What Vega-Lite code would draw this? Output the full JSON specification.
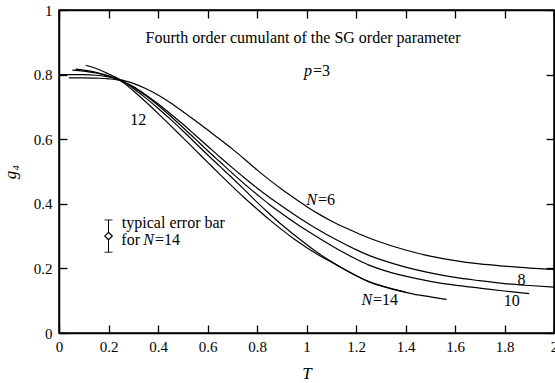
{
  "$schema": "https://vega.github.io/schema/vega-lite/v6.json",
  "width": 495,
  "height": 323,
  "autosize": {"type": "none"},
  "padding": {"left": 59, "top": 10, "right": 1, "bottom": 50},
  "background": "white",
  "config": {
    "view": {"stroke": "black", "strokeWidth": 1.5},
    "font": "Liberation Serif",
    "axis": {
      "domainColor": "black", "domainWidth": 1.5, "tickColor": "black", "tickWidth": 1.3,
      "tickSize": -8, "labelColor": "black", "labelFont": "Liberation Serif", "labelFontSize": 15,
      "titleFont": "Liberation Serif", "titleColor": "black", "titleFontSize": 17, "titleFontWeight": "normal",
      "grid": false
    },
    "text": {"font": "Liberation Serif", "fontSize": 16, "color": "black"}
  },
  "datasets": {
    "curves": [
      {"N": 6, "T": 0.0, "g": 0.8}, {"N": 6, "T": 0.05, "g": 0.8}, {"N": 6, "T": 0.1, "g": 0.8}, {"N": 6, "T": 0.15, "g": 0.798}, {"N": 6, "T": 0.2, "g": 0.793}, {"N": 6, "T": 0.25, "g": 0.784}, {"N": 6, "T": 0.3, "g": 0.773}, {"N": 6, "T": 0.35, "g": 0.757}, {"N": 6, "T": 0.4, "g": 0.737}, {"N": 6, "T": 0.45, "g": 0.713}, {"N": 6, "T": 0.5, "g": 0.686}, {"N": 6, "T": 0.55, "g": 0.658}, {"N": 6, "T": 0.6, "g": 0.629}, {"N": 6, "T": 0.65, "g": 0.6}, {"N": 6, "T": 0.7, "g": 0.57}, {"N": 6, "T": 0.75, "g": 0.538}, {"N": 6, "T": 0.8, "g": 0.505}, {"N": 6, "T": 0.85, "g": 0.474}, {"N": 6, "T": 0.9, "g": 0.445}, {"N": 6, "T": 0.95, "g": 0.418}, {"N": 6, "T": 1.0, "g": 0.392}, {"N": 6, "T": 1.05, "g": 0.368}, {"N": 6, "T": 1.1, "g": 0.347}, {"N": 6, "T": 1.15, "g": 0.328}, {"N": 6, "T": 1.2, "g": 0.311}, {"N": 6, "T": 1.25, "g": 0.295}, {"N": 6, "T": 1.3, "g": 0.281}, {"N": 6, "T": 1.4, "g": 0.257}, {"N": 6, "T": 1.5, "g": 0.238}, {"N": 6, "T": 1.6, "g": 0.224}, {"N": 6, "T": 1.7, "g": 0.214}, {"N": 6, "T": 1.8, "g": 0.207}, {"N": 6, "T": 1.9, "g": 0.201}, {"N": 6, "T": 2.0, "g": 0.197},
      {"N": 8, "T": 0.04, "g": 0.79}, {"N": 8, "T": 0.1, "g": 0.79}, {"N": 8, "T": 0.15, "g": 0.789}, {"N": 8, "T": 0.2, "g": 0.787}, {"N": 8, "T": 0.25, "g": 0.781}, {"N": 8, "T": 0.3, "g": 0.763}, {"N": 8, "T": 0.35, "g": 0.738}, {"N": 8, "T": 0.4, "g": 0.71}, {"N": 8, "T": 0.45, "g": 0.679}, {"N": 8, "T": 0.5, "g": 0.647}, {"N": 8, "T": 0.55, "g": 0.613}, {"N": 8, "T": 0.6, "g": 0.579}, {"N": 8, "T": 0.65, "g": 0.545}, {"N": 8, "T": 0.7, "g": 0.512}, {"N": 8, "T": 0.75, "g": 0.48}, {"N": 8, "T": 0.8, "g": 0.449}, {"N": 8, "T": 0.85, "g": 0.42}, {"N": 8, "T": 0.9, "g": 0.393}, {"N": 8, "T": 0.95, "g": 0.367}, {"N": 8, "T": 1.0, "g": 0.342}, {"N": 8, "T": 1.05, "g": 0.319}, {"N": 8, "T": 1.1, "g": 0.297}, {"N": 8, "T": 1.15, "g": 0.277}, {"N": 8, "T": 1.2, "g": 0.258}, {"N": 8, "T": 1.25, "g": 0.241}, {"N": 8, "T": 1.3, "g": 0.227}, {"N": 8, "T": 1.4, "g": 0.204}, {"N": 8, "T": 1.5, "g": 0.186}, {"N": 8, "T": 1.6, "g": 0.172}, {"N": 8, "T": 1.7, "g": 0.162}, {"N": 8, "T": 1.8, "g": 0.153}, {"N": 8, "T": 1.9, "g": 0.147}, {"N": 8, "T": 2.0, "g": 0.142},
      {"N": 10, "T": 0.054, "g": 0.814}, {"N": 10, "T": 0.1, "g": 0.811}, {"N": 10, "T": 0.15, "g": 0.805}, {"N": 10, "T": 0.2, "g": 0.795}, {"N": 10, "T": 0.25, "g": 0.781}, {"N": 10, "T": 0.3, "g": 0.761}, {"N": 10, "T": 0.35, "g": 0.735}, {"N": 10, "T": 0.4, "g": 0.705}, {"N": 10, "T": 0.45, "g": 0.672}, {"N": 10, "T": 0.5, "g": 0.637}, {"N": 10, "T": 0.55, "g": 0.601}, {"N": 10, "T": 0.6, "g": 0.565}, {"N": 10, "T": 0.65, "g": 0.53}, {"N": 10, "T": 0.7, "g": 0.495}, {"N": 10, "T": 0.75, "g": 0.461}, {"N": 10, "T": 0.8, "g": 0.429}, {"N": 10, "T": 0.85, "g": 0.398}, {"N": 10, "T": 0.9, "g": 0.37}, {"N": 10, "T": 0.95, "g": 0.343}, {"N": 10, "T": 1.0, "g": 0.318}, {"N": 10, "T": 1.05, "g": 0.294}, {"N": 10, "T": 1.1, "g": 0.271}, {"N": 10, "T": 1.15, "g": 0.249}, {"N": 10, "T": 1.2, "g": 0.229}, {"N": 10, "T": 1.25, "g": 0.211}, {"N": 10, "T": 1.3, "g": 0.197}, {"N": 10, "T": 1.4, "g": 0.176}, {"N": 10, "T": 1.5, "g": 0.16}, {"N": 10, "T": 1.6, "g": 0.148}, {"N": 10, "T": 1.7, "g": 0.139}, {"N": 10, "T": 1.8, "g": 0.13}, {"N": 10, "T": 1.9, "g": 0.122},
      {"N": 12, "T": 0.067, "g": 0.817}, {"N": 12, "T": 0.1, "g": 0.814}, {"N": 12, "T": 0.15, "g": 0.807}, {"N": 12, "T": 0.2, "g": 0.796}, {"N": 12, "T": 0.25, "g": 0.78}, {"N": 12, "T": 0.3, "g": 0.75}, {"N": 12, "T": 0.35, "g": 0.716}, {"N": 12, "T": 0.4, "g": 0.68}, {"N": 12, "T": 0.45, "g": 0.643}, {"N": 12, "T": 0.5, "g": 0.605}, {"N": 12, "T": 0.55, "g": 0.567}, {"N": 12, "T": 0.6, "g": 0.529}, {"N": 12, "T": 0.65, "g": 0.491}, {"N": 12, "T": 0.7, "g": 0.454}, {"N": 12, "T": 0.75, "g": 0.418}, {"N": 12, "T": 0.8, "g": 0.384}, {"N": 12, "T": 0.85, "g": 0.351}, {"N": 12, "T": 0.9, "g": 0.32}, {"N": 12, "T": 0.95, "g": 0.291}, {"N": 12, "T": 1.0, "g": 0.265}, {"N": 12, "T": 1.05, "g": 0.241}, {"N": 12, "T": 1.1, "g": 0.22}, {"N": 12, "T": 1.15, "g": 0.199}, {"N": 12, "T": 1.2, "g": 0.178}, {"N": 12, "T": 1.25, "g": 0.16}, {"N": 12, "T": 1.3, "g": 0.147}, {"N": 12, "T": 1.35, "g": 0.136}, {"N": 12, "T": 1.4, "g": 0.127},
      {"N": 14, "T": 0.108, "g": 0.829}, {"N": 14, "T": 0.15, "g": 0.819}, {"N": 14, "T": 0.2, "g": 0.802}, {"N": 14, "T": 0.25, "g": 0.783}, {"N": 14, "T": 0.3, "g": 0.757}, {"N": 14, "T": 0.35, "g": 0.728}, {"N": 14, "T": 0.4, "g": 0.696}, {"N": 14, "T": 0.45, "g": 0.662}, {"N": 14, "T": 0.5, "g": 0.626}, {"N": 14, "T": 0.55, "g": 0.589}, {"N": 14, "T": 0.6, "g": 0.552}, {"N": 14, "T": 0.65, "g": 0.516}, {"N": 14, "T": 0.7, "g": 0.48}, {"N": 14, "T": 0.75, "g": 0.443}, {"N": 14, "T": 0.8, "g": 0.405}, {"N": 14, "T": 0.85, "g": 0.369}, {"N": 14, "T": 0.9, "g": 0.335}, {"N": 14, "T": 0.95, "g": 0.304}, {"N": 14, "T": 1.0, "g": 0.274}, {"N": 14, "T": 1.05, "g": 0.246}, {"N": 14, "T": 1.1, "g": 0.221}, {"N": 14, "T": 1.15, "g": 0.198}, {"N": 14, "T": 1.2, "g": 0.177}, {"N": 14, "T": 1.25, "g": 0.159}, {"N": 14, "T": 1.3, "g": 0.146}, {"N": 14, "T": 1.35, "g": 0.135}, {"N": 14, "T": 1.4, "g": 0.126}, {"N": 14, "T": 1.45, "g": 0.118}, {"N": 14, "T": 1.5, "g": 0.112}, {"N": 14, "T": 1.566, "g": 0.104}
    ],
    "errorbar": [{"T": 0.2, "g": 0.3, "lo": 0.25, "hi": 0.35}],
    "centerText": [
      {"text": "Fourth order cumulant of the SG order parameter", "T": 0.986, "g": 0.913},
      {"text": "8", "T": 1.869, "g": 0.165},
      {"text": "10", "T": 1.829, "g": 0.098},
      {"text": "12", "T": 0.32, "g": 0.659}
    ],
    "leftText": [
      {"text": "typical error bar", "T": 0.254, "g": 0.342},
      {"text": "for", "T": 0.252, "g": 0.287},
      {"text": "=14", "T": 0.388, "g": 0.287},
      {"text": "=3", "T": 1.026, "g": 0.811},
      {"text": "=6", "T": 1.046, "g": 0.411},
      {"text": "=14", "T": 1.269, "g": 0.101}
    ],
    "italicText": [
      {"text": "N", "T": 0.388, "g": 0.287},
      {"text": "p", "T": 1.026, "g": 0.811},
      {"text": "N", "T": 1.046, "g": 0.411},
      {"text": "N", "T": 1.269, "g": 0.101}
    ]
  },
  "layer": [
    {
      "data": {"name": "curves"},
      "mark": {"type": "line", "color": "black", "strokeWidth": 1.2, "interpolate": "monotone"},
      "encoding": {
        "x": {"field": "T", "type": "quantitative", "scale": {"domain": [0, 2], "nice": false},
          "axis": {"values": [0, 0.2, 0.4, 0.6, 0.8, 1, 1.2, 1.4, 1.6, 1.8, 2], "format": "~g", "title": "T", "titleFontStyle": "italic", "labelPadding": 14, "titlePadding": 11, "labelFlush": false}},
        "y": {"field": "g", "type": "quantitative", "scale": {"domain": [0, 1], "nice": false},
          "axis": {"values": [0, 0.2, 0.4, 0.6, 0.8, 1], "format": "~g", "title": "g₄", "titleFontStyle": "italic", "labelPadding": 15, "titlePadding": 14, "labelFlush": false}},
        "detail": {"field": "N", "type": "nominal"}
      }
    },
    {
      "data": {"name": "errorbar"},
      "mark": {"type": "rule", "color": "black", "strokeWidth": 1},
      "encoding": {
        "x": {"field": "T", "type": "quantitative", "axis": null},
        "y": {"field": "lo", "type": "quantitative", "axis": null},
        "y2": {"field": "hi"}
      }
    },
    {
      "data": {"name": "errorbar"},
      "mark": {"type": "tick", "orient": "horizontal", "size": 8, "thickness": 1.2, "color": "black"},
      "encoding": {
        "x": {"field": "T", "type": "quantitative", "axis": null},
        "y": {"field": "lo", "type": "quantitative", "axis": null}
      }
    },
    {
      "data": {"name": "errorbar"},
      "mark": {"type": "tick", "orient": "horizontal", "size": 8, "thickness": 1.2, "color": "black"},
      "encoding": {
        "x": {"field": "T", "type": "quantitative", "axis": null},
        "y": {"field": "hi", "type": "quantitative", "axis": null}
      }
    },
    {
      "data": {"name": "errorbar"},
      "mark": {"type": "point", "shape": "diamond", "filled": true, "fill": "white", "stroke": "black", "strokeWidth": 1.3, "size": 55, "opacity": 1},
      "encoding": {
        "x": {"field": "T", "type": "quantitative", "axis": null},
        "y": {"field": "g", "type": "quantitative", "axis": null}
      }
    },
    {
      "data": {"name": "centerText"},
      "mark": {"type": "text", "align": "center", "baseline": "middle", "font": "Liberation Serif"},
      "encoding": {
        "x": {"field": "T", "type": "quantitative", "axis": null},
        "y": {"field": "g", "type": "quantitative", "axis": null},
        "text": {"field": "text"}
      }
    },
    {
      "data": {"name": "leftText"},
      "mark": {"type": "text", "align": "left", "baseline": "middle", "font": "Liberation Serif"},
      "encoding": {
        "x": {"field": "T", "type": "quantitative", "axis": null},
        "y": {"field": "g", "type": "quantitative", "axis": null},
        "text": {"field": "text"}
      }
    },
    {
      "data": {"name": "italicText"},
      "mark": {"type": "text", "align": "right", "baseline": "middle", "fontStyle": "italic", "font": "Liberation Serif", "dx": -1},
      "encoding": {
        "x": {"field": "T", "type": "quantitative",
          "axis": {"orient": "top", "values": [0, 0.2, 0.4, 0.6, 0.8, 1, 1.2, 1.4, 1.6, 1.8, 2], "labels": false, "title": null}},
        "y": {"field": "g", "type": "quantitative",
          "axis": {"orient": "right", "values": [0, 0.2, 0.4, 0.6, 0.8, 1], "labels": false, "title": null}},
        "text": {"field": "text"}
      }
    }
  ],
  "resolve": {"axis": {"x": "independent", "y": "independent"}}
}
